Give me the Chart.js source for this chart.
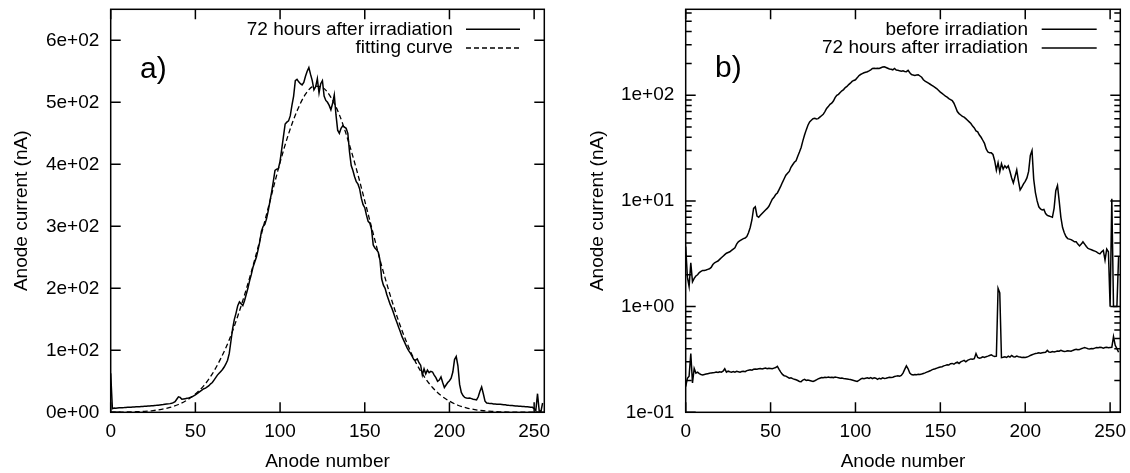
<!DOCTYPE html>
<html><head><meta charset="utf-8">
<script src="https://cdn.jsdelivr.net/npm/chart.js@4.4.1/dist/chart.umd.min.js"></script>
<style>
html,body{margin:0;padding:0;background:#fff;}
#wrap{position:relative;width:1130px;height:473px;overflow:hidden;background:#fff;}
#ca{position:absolute;left:0;top:0;}
#cb{position:absolute;left:565px;top:0;}
</style></head><body>
<div id="wrap"><canvas id="ca" width="565" height="473"></canvas><canvas id="cb" width="565" height="473"></canvas></div>
<script>
// ---------- data ----------
const anodes = Array.from({length: 256}, (_, i) => i);
const xTicks = [0, 50, 100, 150, 200, 250];
const yTicksA = [0, 100, 200, 300, 400, 500, 600];
const yTicksB = [0.1, 1, 10, 100];
const yMinorB = [0.2,0.3,0.4,0.5,0.6,0.7,0.8,0.9, 2,3,4,5,6,7,8,9, 20,30,40,50,60,70,80,90, 200,300,400,500,600];

// panel a: 72 hours after irradiation (nA)
const after72A = [
63, 6, 7, 6.5, 7, 7.2, 7.3, 7.5, 7.6, 7.8, 8, 8.1, 8.3, 8.5, 8.6, 8.8,
9, 9.1, 9.3, 9.5, 9.7, 9.9, 10.1, 10.3, 10.5, 10.7, 11, 11.2, 11.5, 11.8, 12.1, 12.4,
12.8, 13.2, 13.6, 14, 14.5, 15.5, 17, 21, 25, 24, 21, 21.5, 22, 22.5, 23, 24,
25, 26.5, 28, 30, 32, 34, 36, 38, 39, 41, 43, 46, 48, 52, 56, 60,
63, 66, 69, 73, 78, 84, 95, 115, 135, 150, 160, 172, 178, 175, 172, 180,
190, 200, 212, 222, 234, 242, 250, 262, 275, 292, 300, 303, 312, 325, 340, 355,
372, 390, 392, 393, 405, 425, 445, 465, 468, 470, 478, 495, 510, 535, 537, 533,
530, 528, 532, 542, 550, 556, 545, 535, 520, 525, 538, 515, 530, 535, 510, 503,
500, 495, 488, 498, 512, 480, 455, 450, 458, 462, 460, 458, 450, 420, 398, 390,
380, 372, 368, 360, 345, 335, 330, 318, 308, 305, 295, 270, 265, 262, 258, 245,
215, 205, 200, 190, 182, 174, 168, 160, 152, 145, 137, 130, 122, 116, 110, 104,
99, 95, 90, 85, 84, 86, 80, 76, 60, 70, 62, 68, 64, 66, 65, 60,
56, 50, 52, 57, 48, 40, 44, 48, 51, 55, 65, 85, 90, 75, 45, 32,
27, 24, 23, 22.5, 23, 22, 21, 20.5, 20, 25, 34, 41, 30, 18, 15, 14.5,
14, 14, 13.5, 13.5, 13, 13, 12.8, 12.5, 12, 12, 11.5, 11.2, 11, 10.8, 10.5, 10.2,
10, 9.8, 9.6, 9.4, 9.2, 9, 8.8, 8.6, 8.3, 8, 6, 3, 30, 2, 1, 15
];

// panel a: fitting curve (read every 5 anodes)
const fitX = [0,5,10,15,20,25,30,35,40,45,50,55,60,65,70,75,80,85,90,95,100,105,110,115,120,125,130,135,140,145,150,155,160,165,170,175,180,185,190,195,200,205,210,215,220,225,230,235,240,245,250,255];
const fitY = [0.1,0.2,0.5,0.9,1.6,2.8,4.8,7.9,12.6,19.5,29.5,43,62,87,117,155,198,246,298,351,403,449,486,513,526,524,508,480,440,393,341,288,236,189,147,111,81,58,40,27,18,11.4,7.1,4.3,2.5,1.4,0.8,0.4,0.2,0.1,0.05,0.02];

// panel b: before irradiation (nA)
const beforeB = [
0.175, 0.21, 0.22, 0.36, 0.19, 0.26, 0.235, 0.24, 0.232, 0.228, 0.226, 0.228, 0.23, 0.232, 0.234, 0.236,
0.237, 0.238, 0.24, 0.238, 0.242, 0.24, 0.245, 0.258, 0.24, 0.245, 0.242, 0.24, 0.243, 0.24, 0.244, 0.242,
0.24, 0.243, 0.245, 0.242, 0.248, 0.25, 0.252, 0.25, 0.255, 0.257, 0.255, 0.258, 0.26, 0.257, 0.26, 0.262,
0.258, 0.261, 0.26, 0.258, 0.262, 0.265, 0.272, 0.255, 0.24, 0.228, 0.222, 0.22, 0.215, 0.21, 0.212, 0.208,
0.205, 0.203, 0.2, 0.196, 0.195, 0.202, 0.205, 0.2, 0.202, 0.2, 0.198, 0.196, 0.199, 0.203, 0.207, 0.21,
0.213, 0.212, 0.214, 0.213, 0.216, 0.214, 0.215, 0.213, 0.216, 0.214, 0.212, 0.21, 0.211, 0.209, 0.208, 0.207,
0.205, 0.204, 0.202, 0.2, 0.198, 0.196, 0.2, 0.206, 0.21, 0.208, 0.21, 0.212, 0.209, 0.213, 0.208, 0.212,
0.21, 0.205, 0.21, 0.207, 0.212, 0.209, 0.21, 0.212, 0.214, 0.213, 0.215, 0.218, 0.22, 0.222, 0.22, 0.223,
0.235, 0.255, 0.275, 0.258, 0.235, 0.228, 0.226, 0.228, 0.227, 0.229, 0.228, 0.23, 0.233, 0.236, 0.24, 0.243,
0.247, 0.252, 0.256, 0.258, 0.262, 0.265, 0.268, 0.27, 0.275, 0.278, 0.282, 0.28, 0.288, 0.29, 0.285, 0.293,
0.298, 0.29, 0.3, 0.305, 0.31, 0.3, 0.31, 0.315, 0.32, 0.318, 0.322, 0.36, 0.33, 0.325, 0.328, 0.335,
0.33, 0.336, 0.34, 0.345, 0.35, 0.342, 0.338, 0.34, 1.49, 1.35, 0.33, 0.332, 0.335, 0.33, 0.34, 0.333,
0.345, 0.336, 0.334, 0.34, 0.336, 0.333, 0.33, 0.332, 0.33, 0.333, 0.338, 0.345, 0.35, 0.355, 0.36, 0.362,
0.365, 0.363, 0.366, 0.368, 0.37, 0.385, 0.372, 0.37, 0.375, 0.373, 0.376, 0.38, 0.378, 0.386, 0.38, 0.376,
0.378, 0.382, 0.38, 0.378, 0.385, 0.39, 0.394, 0.39, 0.392, 0.4, 0.405, 0.41, 0.405, 0.4, 0.398, 0.402,
0.4, 0.405, 0.41, 0.408, 0.412, 0.41, 0.405, 0.41, 0.412, 0.408, 0.41, 0.412, 0.52, 0.43, 0.4, 0.37
];

// panel b: 72 hours after irradiation (nA)
const after72B = [
3.7, 1.9, 1.55, 2.6, 1.72, 1.85, 1.95, 2.0, 2.1, 2.15, 2.2, 2.2, 2.22, 2.25, 2.28, 2.35,
2.5, 2.6, 2.65, 2.7, 2.8, 2.9, 3.0, 3.1, 3.2, 3.25, 3.3, 3.4, 3.5, 3.6, 3.9, 4.1,
4.2, 4.3, 4.4, 4.45, 4.6, 5.0, 5.6, 6.6, 8.5, 8.8, 7.2, 7.0, 7.3, 7.6, 7.9, 8.2,
8.5, 8.9, 9.6, 10.4, 10.8, 11.5, 11.9, 12.8, 13.8, 15, 16.2, 17.5, 18.3, 19, 20.8, 22,
23.2, 24, 26.5, 29, 32, 37, 42, 47, 52, 56, 58, 60, 60.5, 59.5, 60, 62,
64, 66, 70, 75, 78, 82, 84, 88, 95, 100, 102, 106, 110, 113, 118, 121,
126, 130, 135, 138, 140, 146, 153, 157, 160, 163, 165, 167, 170, 174, 179, 180,
179, 180, 179, 182, 185, 186, 183, 180, 177, 176, 174, 179, 173, 172, 170, 169,
170, 168, 167, 172, 163, 157, 155, 154, 155, 156, 152, 148, 140, 136, 133, 130,
127, 124, 121, 118, 115, 111, 107, 104, 101, 98, 96, 93, 91, 89, 84, 77,
70, 67, 65, 63, 62, 60, 58, 56, 54, 51, 49, 46, 45, 42, 40, 37.5,
35, 31, 29, 28.5, 28.5, 27.5, 24, 19.5, 23, 18.8, 22.5, 20, 21.5, 20.5, 21.5, 19,
16.5, 14.8, 17, 19.6, 15.5, 12.7, 13.5, 14.5, 15.3, 16.5, 19, 27, 30, 16, 12, 10,
8.8, 8.4, 8.2, 8.3, 7.6, 7.3, 7.2, 7.1, 7.0, 8.5, 12.5, 14, 10, 7, 5.6, 5.0,
4.6, 4.4, 4.35, 4.3, 4.2, 4.1, 4.1, 3.9, 3.75, 3.9, 4.1, 3.9, 3.7, 3.55, 3.5, 3.45,
3.4, 3.35, 3.3, 3.2, 3.15, 3.3, 3.4, 2.75, 3.5, 3.3, 1.0, 10.5, 1.0, 1.0, 1.0, 3.0
];

// ---------- helpers ----------
const FONT = '"Liberation Sans", Arial, Helvetica, sans-serif';
const FS = 19;
function pts(xs, ys) { return xs.map((x, i) => ({x: x, y: ys[i]})); }
function gp(v) {
  if (v === 0) return '0e+00';
  const e = Math.floor(Math.log10(v) + 1e-9);
  const m = Math.round(v / Math.pow(10, e));
  return m + 'e' + (e < 0 ? '-' : '+') + String(Math.abs(e)).padStart(2, '0');
}

const framePlugin = {
  id: 'frame',
  afterDatasetsDraw(chart, args, o) {
    const ctx = chart.ctx, a = chart.chartArea, xs = chart.scales.x, ys = chart.scales.y;
    ctx.save();
    ctx.strokeStyle = '#000';
    ctx.lineWidth = 1.5;
    ctx.setLineDash([]);
    ctx.strokeRect(a.left, a.top, a.right - a.left, a.bottom - a.top);
    ctx.beginPath();
    xs.ticks.forEach(t => {
      const p = xs.getPixelForValue(t.value);
      ctx.moveTo(p, a.bottom); ctx.lineTo(p, a.bottom - 10);
      ctx.moveTo(p, a.top); ctx.lineTo(p, a.top + 10);
    });
    ys.ticks.forEach(t => {
      const p = ys.getPixelForValue(t.value);
      ctx.moveTo(a.left, p); ctx.lineTo(a.left + 10, p);
      ctx.moveTo(a.right, p); ctx.lineTo(a.right - 10, p);
    });
    (o.minor || []).forEach(v => {
      const p = ys.getPixelForValue(v);
      ctx.moveTo(a.left, p); ctx.lineTo(a.left + 6, p);
      ctx.moveTo(a.right, p); ctx.lineTo(a.right - 6, p);
    });
    ctx.stroke();
    // panel label
    ctx.fillStyle = '#000';
    ctx.font = '30px ' + FONT;
    ctx.textAlign = 'left';
    ctx.textBaseline = 'alphabetic';
    ctx.fillText(o.label, o.labelX, o.labelY);
    // key
    ctx.font = FS + 'px ' + FONT;
    ctx.textAlign = 'right';
    ctx.textBaseline = 'middle';
    chart.data.datasets.forEach((ds, i) => {
      const y = o.keyY[i];
      ctx.fillText(ds.label, o.keyTextX, y);
      ctx.setLineDash(ds.borderDash || []);
      ctx.lineWidth = ds.borderWidth;
      ctx.beginPath();
      ctx.moveTo(o.keyX0, y); ctx.lineTo(o.keyX1, y);
      ctx.stroke();
    });
    ctx.restore();
  }
};

function xScale() {
  return {
    type: 'linear', min: 0, max: 256,
    grid: {display: false, drawTicks: false}, border: {display: false},
    ticks: {font: {family: FONT, size: FS}, color: '#000', padding: 8, maxRotation: 0, autoSkip: false, includeBounds: false},
    afterBuildTicks: s => { s.ticks = xTicks.map(v => ({value: v})); },
    afterFit: s => { s.height = 60.7; s.paddingLeft = 0; s.paddingRight = 0; },
    title: {display: true, text: 'Anode number', font: {family: FONT, size: FS}, color: '#000', padding: {top: 0, bottom: 0}}
  };
}
function yScale(type, min, max, tickVals, width, titlePad) {
  return {
    type: type, min: min, max: max,
    grid: {display: false, drawTicks: false}, border: {display: false},
    ticks: {font: {family: FONT, size: FS}, color: '#000', padding: 11.4, autoSkip: false, includeBounds: false, callback: v => gp(v)},
    afterBuildTicks: s => { s.ticks = tickVals.map(v => ({value: v})); },
    afterFit: s => { s.width = width; s.paddingTop = 0; s.paddingBottom = 0; },
    title: {display: true, text: 'Anode current (nA)', font: {family: FONT, size: FS}, color: '#000', padding: {top: titlePad, bottom: 0}}
  };
}

new Chart(document.getElementById('ca'), {
  type: 'line',
  data: {datasets: [
    {label: '72 hours after irradiation', data: pts(anodes, after72A), borderColor: '#000', borderWidth: 1.5, pointRadius: 0, tension: 0, fill: false},
    {label: 'fitting curve', data: pts(fitX, fitY), borderColor: '#000', borderWidth: 1.3, borderDash: [5, 3], pointRadius: 0, cubicInterpolationMode: 'monotone', fill: false}
  ]},
  options: {
    responsive: false, animation: false, events: [],
    layout: {padding: {left: 0, right: 20.7, top: 9.3, bottom: 0}},
    scales: {x: xScale(), y: yScale('linear', 0, 650, yTicksA, 110.7, 9.9)},
    plugins: {legend: {display: false}, tooltip: {enabled: false},
      frame: {label: 'a)', labelX: 140, labelY: 78, keyTextX: 452.7, keyX0: 466, keyX1: 520, keyY: [29.3, 48]}}
  },
  plugins: [framePlugin]
});

new Chart(document.getElementById('cb'), {
  type: 'line',
  data: {datasets: [
    {label: 'before irradiation', data: pts(anodes, beforeB), borderColor: '#000', borderWidth: 1.5, pointRadius: 0, tension: 0, fill: false},
    {label: '72 hours after irradiation', data: pts(anodes, after72B), borderColor: '#000', borderWidth: 1.5, pointRadius: 0, tension: 0, fill: false}
  ]},
  options: {
    responsive: false, animation: false, events: [],
    layout: {padding: {left: 0, right: 9.7, top: 9.3, bottom: 0}},
    scales: {x: xScale(), y: yScale('logarithmic', 0.1, 650, yTicksB, 120.7, 21.6)},
    plugins: {legend: {display: false}, tooltip: {enabled: false},
      frame: {label: 'b)', labelX: 150, labelY: 77, minor: yMinorB, keyTextX: 463, keyX0: 476.7, keyX1: 531.7, keyY: [29.3, 48]}}
  },
  plugins: [framePlugin]
});
</script>
</body></html>
